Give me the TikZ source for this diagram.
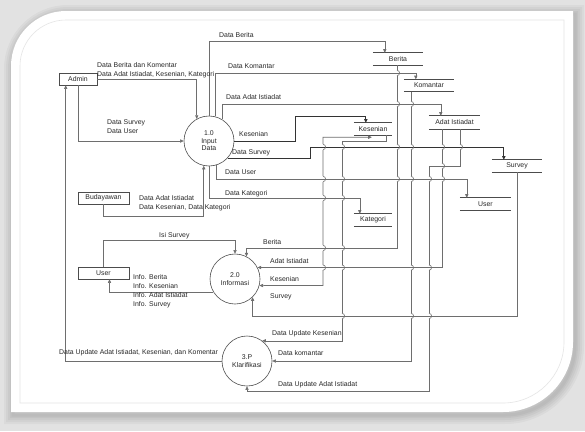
\documentclass[tikz,border=0pt]{standalone}
\usepackage{fontspec}
\newfontfamily\dfdfont{Liberation Sans}
\usetikzlibrary{arrows.meta, calc}
\definecolor{linegray}{RGB}{110,110,110}
\definecolor{textgray}{RGB}{40,40,40}
\definecolor{pagegray}{RGB}{226,226,226}

\begin{document}
\begin{tikzpicture}[x=1pt, y=-1pt, >={Triangle[length=3.6pt, width=3.2pt]},
    every node/.style={font=\dfdfont\fontsize{6.9}{9}\selectfont, text=textgray, inner sep=0pt},
    entity/.style={draw=black!70, line width=0.6pt, minimum width=38pt, minimum height=12pt},
    process/.style={circle, draw=black!70, line width=0.6pt, minimum size=50pt, align=center,
                    font=\dfdfont\fontsize{6.9}{7.6}\selectfont},
    store/.style={minimum width=50pt, minimum height=12pt},
    flow/.style={draw=linegray, line width=0.6pt, ->},
    mainflow/.style={draw=black!80, line width=0.9pt, ->},
    lbl/.style={anchor=west, align=left}]

  % frame
  \def\card{(11,66) arc[start angle=180, end angle=270, radius=55] -- (573,11) -- (573,342)
            arc[start angle=0, end angle=90, radius=70] -- (11,412) -- cycle}
  \useasboundingbox (0,0) rectangle (585,431);
  \fill[pagegray] (0,0) rectangle (585,431);
  \foreach \w in {18,14,10,6,3}
    \draw[black, opacity=0.035, line width=\w pt, shift={(2,3)}] \card;
  \fill[white] \card;
  \draw[black!10, line width=0.6pt] (20,66) arc[start angle=180, end angle=270, radius=46]
    -- (564,20) -- (564,342) arc[start angle=0, end angle=90, radius=61] -- (20,403) -- cycle;

  % entities and processes
  \node[entity] (admin) at (78,79) {Admin};
  \node[entity, minimum width=51pt] (budayawan) at (103.5,198) {Budayawan};
  \node[entity, minimum width=51pt] (user) at (103.5,273) {User};
  \node[process] (p1) at (209,141) {1.0\\Input\\Data};
  \node[process] (p2) at (235,279) {2.0\\Informasi};
  \node[process] (p3) at (247,361) {3.P\\Klarifikasi};

  % data stores
  \node[store] (berita) at (398,59) {Berita};
  \node[store] (komantar) at (429,85.5) {Komantar};
  \node[store, minimum width=51pt, minimum height=13pt] (adat) at (454.5,122.5) {Adat Istiadat};
  \node[store, minimum width=38pt] (kesenian) at (373,129) {Kesenian};
  \node[store] (survey) at (517,166) {Survey};
  \node[store, minimum width=51pt] (userstore) at (485.5,204) {User};
  \node[store, minimum width=38pt] (kategori) at (373,220) {Kategori};
  \foreach \s in {berita,komantar,adat,survey,userstore}
    \draw[black!70] (\s.north west) -- (\s.north east)
          [line width=0.9pt] (\s.south west) -- (\s.south east);
  \foreach \s in {kesenian,kategori}
    \draw[black!70] (\s.south west) -- (\s.south east)
          [line width=0.9pt] (\s.north west) -- (\s.north east);

  % ports
  \coordinate (brIn) at ($(berita.north west)+(12,0)$);
  \coordinate (brOut) at ($(berita.south west)+(24,0)$);
  \coordinate (kmIn) at ($(komantar.north west)+(12,0)$);
  \coordinate (kmOut) at ($(komantar.south west)+(7,0)$);
  \coordinate (adIn) at ($(adat.north west)+(12,0)$);
  \coordinate (adOutA) at ($(adat.south west)+(13,0)$);
  \coordinate (adOutB) at ($(adat.south west)+(31,0)$);
  \coordinate (ksIn) at ($(kesenian.north west)+(12,0)$);
  \coordinate (ksOutA) at ($(kesenian.south west)+(18,2)$);
  \coordinate (ksOutB) at ($(kesenian.south west)+(32,0)$);
  \coordinate (svIn) at ($(survey.north west)+(12,0)$);
  \coordinate (svOut) at ($(survey.south west)+(25,0)$);
  \coordinate (usIn) at ($(userstore.north west)+(7,0)$);
  \coordinate (ktIn) at ($(kategori.north west)+(6,0)$);
  \coordinate (adminIn) at ($(admin.south west)+(7,0)$);

  % flows
  \draw[flow] (admin.east) -| (p1.119);
  \draw[flow] (admin.south) |- (p1.west);
  \draw[flow] (p3.west) -| (adminIn);
  \draw[flow] (budayawan.south) -- ++(0,12) -| (p1.-102);
  \draw[flow] (p1.north) -- (p1.north |- 0,41) -| (brIn);
  \draw[flow] (p1.76) -- (p1.76 |- 0,73) -| (kmIn);
  \draw[flow] (p1.59) -- (p1.59 |- 0,104) -| (adIn);
  \draw[mainflow] (p1.east) -| (295,116) -| (ksIn);
  \draw[mainflow] (p1.-43) -| (310,147) -| (svIn);
  \draw[flow] (p1.-74) -- (p1.-74 |- 0,179) -| (usIn);
  \draw[flow] (p1.south) -- (p1.south |- 0,198) -| (ktIn);
  \draw[flow] (user.north) -- ++(0,-26) -| (p2.north);
  \draw[flow] (p2.211) -| ($(user.south)+(6,0)$);
  \draw[flow] (brOut) -- (brOut |- 0,248) -| (p2.63);
  \draw[flow] (adOutA) |- (p2.27);
  \draw[flow, <->] (ksOutA) -| (323,285.5) -- (p2.-15);
  \draw[flow] (svOut) -- (svOut |- 0,316) -| (p2.-46);
  \draw[flow] (ksOutB) -- ++(0,6) -| (p3.53 -| 342,0) -- (p3.53);
  \draw[flow] (kmOut) |- (p3.east);
  \draw[flow] (adOutB) -- ++(0,37) -| (429,391) -| (p3.south);

  % line jumps
  \foreach \hx/\hy in {323/179,323/198,323/248,323/267.6,342/179,342/198,342/248,342/267.6,342/316,
                       397/73,397/104,397/179,411/104,411/179,411/267.6,411/316,
                       442/166,442/179,429/179,429/267.6,429/316} {
    \fill[white] (\hx-0.8,\hy-2.6) rectangle (\hx+0.8,\hy+2.6);
    \draw[linegray, line width=0.6pt] (\hx-1.2,\hy) -- (\hx+1.2,\hy);
    \draw[linegray, line width=0.6pt] (\hx,\hy-2.6) arc[start angle=270, end angle=450, radius=2.6];
  }
  \foreach \hx in {323,342,397,411,442,460} {
    \fill[white] (\hx-0.8,144.4) rectangle (\hx+0.8,149.6);
    \draw[black!80, line width=0.9pt] (\hx-1.2,147) -- (\hx+1.2,147);
    \draw[linegray, line width=0.6pt] (\hx,144.4) arc[start angle=270, end angle=450, radius=2.6];
  }

  % labels
  \node[lbl] (lDataBerita) at (219,35) {Data Berita};
  \node[lbl] (lAdminData) at (97,70.5) {Data Berita dan Komentar\\Data Adat Istiadat, Kesenian, Kategori};
  \node[lbl] (lAdminSurvey) at (107,127) {Data Survey\\Data User};
  \node[lbl] (lDataKomantar) at (228,66) {Data Komantar};
  \node[lbl] (lDataAdat) at (226,97) {Data Adat Istiadat};
  \node[lbl] (lKesenian) at (239,134) {Kesenian};
  \node[lbl] (lDataSurvey) at (232,153) {Data Survey};
  \node[lbl] (lDataUser) at (225,172) {Data User};
  \node[lbl] (lDataKategori) at (225,194) {Data Kategori};
  \node[lbl] (lBudayawan) at (139,203.5) {Data Adat Istiadat\\Data Kesenian, Data Kategori};
  \node[lbl] (lIsiSurvey) at (159,236) {Isi Survey};
  \node[lbl] (lInfo) at (133,291.5) {Info. Berita\\Info. Kesenian\\Info. Adat Istiadat\\Info. Survey};
  \node[lbl] (lBerita) at (263,242) {Berita};
  \node[lbl] (lAdat) at (270,261) {Adat Istiadat};
  \node[lbl] (lKesenianB) at (270,279) {Kesenian};
  \node[lbl] (lSurvey) at (270,297) {Survey};
  \node[lbl] (lUpdKesenian) at (272,334) {Data Update Kesenian};
  \node[lbl] (lKomantar) at (278,353) {Data komantar};
  \node[lbl] (lUpdAdat) at (278,385) {Data Update Adat Istiadat};
  \node[lbl] (lUpdAdmin) at (59,353) {Data Update Adat Istiadat, Kesenian, dan Komentar};
\end{tikzpicture}
\end{document}
